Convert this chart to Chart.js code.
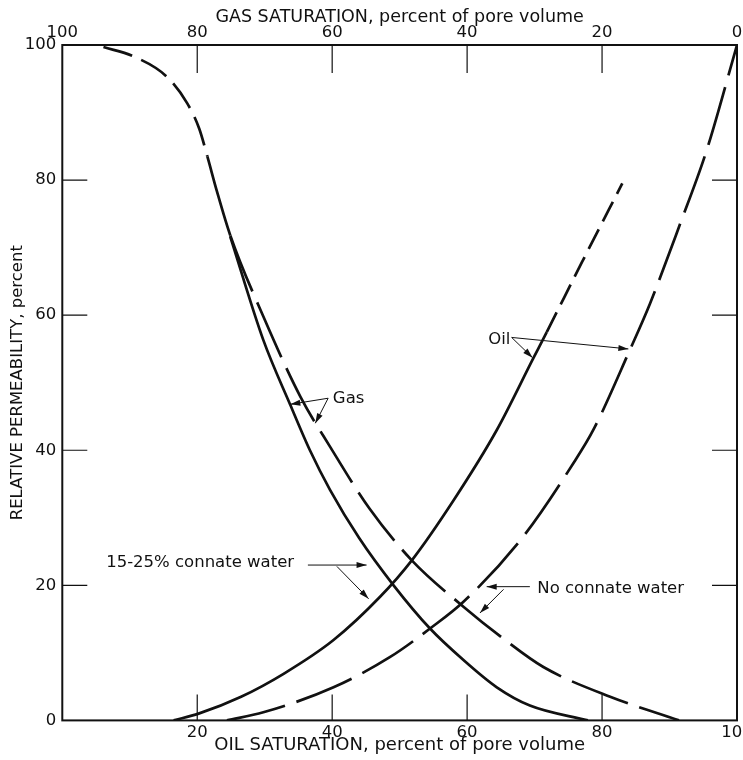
<!DOCTYPE html>
<html>
<head>
<meta charset="utf-8">
<script src="https://cdn.jsdelivr.net/npm/chart.js@4.4.0/dist/chart.umd.min.js"></script>
<style>
  html, body { margin: 0; padding: 0; background: #fff; }
</style>
</head>
<body>
<canvas id="relPerm" width="743" height="760"></canvas>
<script>
const FONT = "'DejaVu Sans', sans-serif";
const INK = '#111';

// oil saturation (%) -> relative permeability (%)
const gasConnateX = [24.9, 29.8, 33.8, 36.7, 39.7, 44.0, 49.1, 54.5, 59.5, 64.4, 69.3, 77.9];
const gasConnateY = [71.6, 56.3, 46.7, 40.0, 34.1, 27.0, 20.0, 13.6, 8.9, 4.9, 2.2, 0];
const gasNoWaterX = [6.1, 10.6, 15.5, 18.5, 20.3, 21.5, 22.9, 24.9, 29.8, 35.3, 39.7, 45.5, 51.8, 59.5, 65.5, 71.3, 81.2, 91.4];
const gasNoWaterY = [99.7, 98.3, 95.3, 91.4, 87.6, 83.5, 78.4, 71.8, 59.8, 47.9, 40.5, 31.4, 23.7, 16.8, 12.0, 7.9, 3.5, 0];
const oilConnateX = [16.5, 20.2, 26.5, 32.8, 40.2, 47.1, 51.8, 58.0, 64.4, 69.8, 71.8, 77.0, 83.0];
const oilConnateY = [0, 1.0, 3.5, 6.9, 11.9, 18.3, 23.7, 32.6, 43.0, 53.6, 57.5, 67.8, 79.5];
const oilNoWaterX = [24.4, 29.8, 40.2, 48.6, 54.5, 59.5, 68.3, 75.7, 78.7, 84.1, 87.1, 91.6, 95.5, 100];
const oilNoWaterY = [0, 1.2, 4.9, 9.4, 13.6, 17.6, 27.2, 38.0, 43.0, 54.8, 61.7, 73.6, 84.4, 100];

const oilTicks = [20, 40, 60, 80, 100];
const gasTicks = [100, 80, 60, 40, 20, 0];

function pts(xs, ys) {
  return xs.map((x, i) => ({x: x, y: ys[i]}));
}

function curve(xs, ys, segment) {
  return {
    data: pts(xs, ys),
    showLine: true,
    borderColor: INK,
    borderWidth: 2.7,
    pointRadius: 0,
    cubicInterpolationMode: 'monotone',
    segment: segment || {}
  };
}

// callouts, in data units
const notes = [
  {text: 'Gas', x: 40.1, y: 47.7, align: 'left'},
  {text: 'Oil', x: 66.4, y: 56.4, align: 'right'},
  {text: '15-25% connate water', x: 6.5, y: 23.3, align: 'left'},
  {text: 'No connate water', x: 70.4, y: 19.5, align: 'left'}
];
const arrows = [
  [39.4, 47.7, 33.8, 46.8], [39.4, 47.7, 37.5, 44.0],
  [66.6, 56.7, 69.7, 53.7], [66.6, 56.7, 83.9, 55.0],
  [36.4, 23.0, 45.1, 23.0], [40.7, 22.8, 45.4, 18.0],
  [69.3, 19.8, 62.9, 19.8], [65.4, 19.4, 61.9, 15.9]
];

const frame = {
  id: 'frame',
  afterDatasetsDraw(chart) {
    const {ctx, chartArea: a, scales} = chart;
    ctx.save();
    ctx.strokeStyle = INK;
    ctx.fillStyle = INK;
    ctx.lineWidth = 2;
    ctx.strokeRect(a.left, a.top, a.right - a.left, a.bottom - a.top);

    ctx.lineWidth = 1.2;
    ctx.beginPath();
    oilTicks.filter(v => v < 100).forEach(v => {
      const px = scales.x.getPixelForValue(v);
      ctx.moveTo(px, a.bottom); ctx.lineTo(px, a.bottom - 26);
      ctx.moveTo(px, a.top); ctx.lineTo(px, a.top + 28);
      const py = scales.y.getPixelForValue(v);
      ctx.moveTo(a.left, py); ctx.lineTo(a.left + 25, py);
      ctx.moveTo(a.right, py); ctx.lineTo(a.right - 25, py);
    });
    ctx.stroke();

    ctx.font = '16.5px ' + FONT;
    ctx.textAlign = 'center';
    ctx.textBaseline = 'middle';
    oilTicks.forEach(v => ctx.fillText(String(v), scales.x.getPixelForValue(v), a.bottom + 12));
    gasTicks.forEach(v => ctx.fillText(String(v), scales.x2.getPixelForValue(v), a.top - 12));

    notes.forEach(n => {
      ctx.textAlign = n.align;
      ctx.fillText(n.text, scales.x.getPixelForValue(n.x), scales.y.getPixelForValue(n.y));
    });

    ctx.lineWidth = 1;
    arrows.forEach(ar => {
      const x0 = scales.x.getPixelForValue(ar[0]), y0 = scales.y.getPixelForValue(ar[1]);
      const x1 = scales.x.getPixelForValue(ar[2]), y1 = scales.y.getPixelForValue(ar[3]);
      const ang = Math.atan2(y1 - y0, x1 - x0);
      ctx.beginPath();
      ctx.moveTo(x0, y0);
      ctx.lineTo(x1, y1);
      ctx.stroke();
      ctx.beginPath();
      ctx.moveTo(x1, y1);
      ctx.lineTo(x1 - 10 * Math.cos(ang) + 3 * Math.sin(ang), y1 - 10 * Math.sin(ang) - 3 * Math.cos(ang));
      ctx.lineTo(x1 - 10 * Math.cos(ang) - 3 * Math.sin(ang), y1 - 10 * Math.sin(ang) + 3 * Math.cos(ang));
      ctx.closePath();
      ctx.fill();
    });
    ctx.restore();
  }
};

const hidden = {display: false, drawTicks: false};

new Chart(document.getElementById('relPerm'), {
  type: 'scatter',
  data: {
    datasets: [
      curve(gasConnateX, gasConnateY),
      curve(gasNoWaterX, gasNoWaterY, {
        borderDash: c => c.p0.parsed.y > 84 ? [30, 10] : (c.p0.parsed.y > 72 ? [] : [60, 12])
      }),
      curve(oilConnateX, oilConnateY, {
        borderDash: c => c.p0.parsed.y >= 57 ? [22, 9] : []
      }),
      curve(oilNoWaterX, oilNoWaterY, {borderDash: () => [60, 12]})
    ]
  },
  options: {
    responsive: false,
    animation: false,
    layout: {padding: {left: 0, right: 6, top: 0, bottom: 0}},
    plugins: {legend: {display: false}, tooltip: {enabled: false}},
    scales: {
      x: {
        type: 'linear', position: 'bottom', min: 0, max: 100,
        ticks: {display: false}, grid: hidden, border: {display: false},
        title: {display: true, text: 'OIL SATURATION, percent of pore volume', color: INK,
                font: {family: FONT, size: 18}, padding: {top: 14, bottom: 4}}
      },
      x2: {
        type: 'linear', position: 'top', min: 0, max: 100, reverse: true,
        ticks: {display: false}, grid: hidden, border: {display: false},
        title: {display: true, text: 'GAS SATURATION, percent of pore volume', color: INK,
                font: {family: FONT, size: 17.5}, padding: {top: 7, bottom: 17}}
      },
      y: {
        min: 0, max: 100,
        ticks: {stepSize: 20, color: INK, padding: 6, font: {family: FONT, size: 16.5}},
        grid: hidden, border: {display: false},
        title: {display: true, text: 'RELATIVE PERMEABILITY, percent', color: INK,
                font: {family: FONT, size: 16.5}, padding: {top: 8, bottom: -9}}
      }
    }
  },
  plugins: [frame]
});
</script>
</body>
</html>
